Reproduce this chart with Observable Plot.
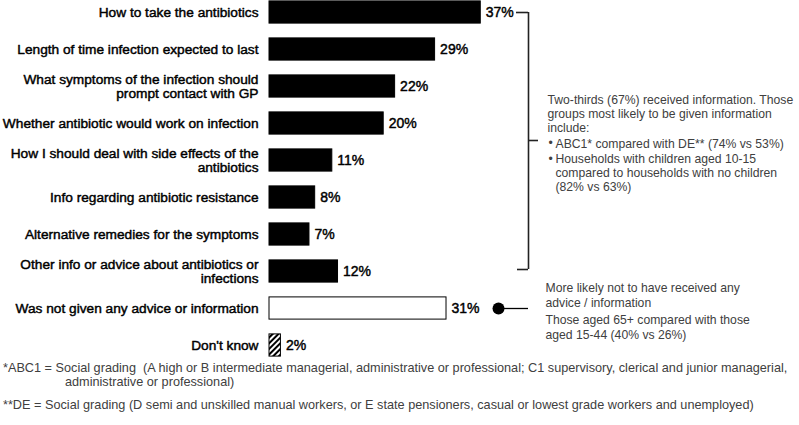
<!DOCTYPE html>
<html><head><meta charset="utf-8">
<script src="https://cdn.jsdelivr.net/npm/d3@7"></script>
<script src="https://cdn.jsdelivr.net/npm/@observablehq/plot@0.6"></script>
<style>
body{margin:0;background:#fff;font-family:"Liberation Sans",Arial,sans-serif;}
#chart svg{display:block;}
#fn{position:relative;width:799px;height:65px;color:#404040;font-size:12.7px;line-height:14px;font-family:"Liberation Sans",Arial,sans-serif;}
#fn div{position:absolute;white-space:pre;}
</style></head><body>
<div id="chart"></div>
<div id="fn"></div>
<script>
// ---- data ----
const categories = [
  "How to take the antibiotics",
  "Length of time infection expected to last",
  "What symptoms of the infection should prompt contact with GP",
  "Whether antibiotic would work on infection",
  "How I should deal with side effects of the antibiotics",
  "Info regarding antibiotic resistance",
  "Alternative remedies for the symptoms",
  "Other info or advice about antibiotics or infections",
  "Was not given any advice or information",
  "Don't know"
];
const categoryLabels = [
  "How to take the antibiotics",
  "Length of time infection expected to last",
  "What symptoms of the infection should\nprompt contact with GP",
  "Whether antibiotic would work on infection",
  "How I should deal with side effects of the\nantibiotics",
  "Info regarding antibiotic resistance",
  "Alternative remedies for the symptoms",
  "Other info or advice about antibiotics or\ninfections",
  "Was not given any advice or information",
  "Don't know"
];
const values = [37, 29, 22, 20, 11, 8, 7, 12, 31, 2];

const receivedNote = ["Two-thirds (67%) received information. Those", "groups most likely to be given information", "include:"];
const receivedBullets = [
  ["ABC1* compared with DE** (74% vs 53%)"],
  ["Households with children aged 10-15", "compared to households with no children", "(82% vs 63%)"]
];
const notGivenNote = [
  ["More likely not to have received any", "advice / information"],
  ["Those aged 65+ compared with those", "aged 15-44 (40% vs 26%)"]
];
const footnotes = [
  "*ABC1 = Social grading  (A high or B intermediate managerial, administrative or professional; C1 supervisory, clerical and junior managerial,",
  "administrative or professional)",
  "**DE = Social grading (D semi and unskilled manual workers, or E state pensioners, casual or lowest grade workers and unemployed)"
];

// ---- build ----
const rows = categories.map((c, i) => ({category: c, label: categoryLabels[i], value: values[i], i}));
const H = 360;
const rowPx = 37, firstPx = 12;
const pxToRow = p => (p - firstPx) / rowPx;
const x0 = 269, pxPerPct = 5.71;
const pxToX = p => (p - x0) / pxPerPct;

const half = 0.3;
const fillFor = d => d.i < 8 ? "#000" : d.i === 8 ? "#fff" : "url(#hatch)";

const FONT = "Liberation Sans, Arial, sans-serif";
const labelFont = {fontSize: 13.7, fill: "#000", stroke: "#000", strokeWidth: 0.45, fontFamily: FONT};
const noteFont = {fontSize: 12.2, fill: "#404040", fontFamily: FONT};

const bracketX = pxToX(528);
const bracketBottom = pxToRow(269);
const bracketMid = pxToRow(140);
const dotX = rows[8].value + (498 - 446) / pxPerPct;

const plot = Plot.plot({
  width: 799,
  height: H,
  margin: 0,
  style: {fontFamily: FONT, background: "#fff"},
  x: {domain: [0, 100], range: [x0, x0 + 100 * pxPerPct], axis: null},
  y: {domain: [pxToRow(0), pxToRow(H)], range: [0, H], axis: null},
  marks: [
    Plot.rectX(rows, {x1: 0, x2: "value", y1: d => d.i - half, y2: d => d.i + half,
      fill: fillFor, stroke: "#000", strokeWidth: 1}),
    Plot.text(rows, {x: 0, y: "i", text: "label", textAnchor: "end", dx: -11, lineHeight: 1.0, ...labelFont}),
    Plot.text(rows, {x: "value", y: "i", text: d => d.value + "%", textAnchor: "start", dx: 5, ...labelFont, fontSize: 14}),
    // bracket
    Plot.ruleX([bracketX], {y1: 0, y2: bracketBottom, stroke: "#222", strokeWidth: 1.6}),
    Plot.ruleY([0], {x1: pxToX(516), x2: bracketX, stroke: "#222", strokeWidth: 1.6}),
    Plot.ruleY([bracketBottom], {x1: pxToX(517), x2: bracketX, stroke: "#222", strokeWidth: 1.6}),
    Plot.ruleY([bracketMid], {x1: bracketX, x2: pxToX(538), stroke: "#222", strokeWidth: 1.6}),
    // received note
    Plot.text([receivedNote.join("\n")], {x: pxToX(547), y: pxToRow(113.3), text: d => d, textAnchor: "start", lineHeight: 14 / 12.2, ...noteFont}),
    Plot.text(receivedBullets, {x: pxToX(548), y: (d, k) => k === 0 ? pxToRow(142.7) : pxToRow(158.3), text: () => "•", textAnchor: "start", ...noteFont}),
    Plot.text(receivedBullets, {x: pxToX(555), y: (d, k) => k === 0 ? pxToRow(142.7) : pxToRow(172), text: d => d.join("\n"), textAnchor: "start", lineHeight: 13.8 / 12.2, ...noteFont}),
    // not given note
    Plot.ruleY([8], {x1: dotX, x2: pxToX(528), stroke: "#000", strokeWidth: 1.3}),
    Plot.dot([8], {x: dotX, y: d => d, r: 6, fill: "#000"}),
    Plot.text(notGivenNote, {x: pxToX(545), y: (d, k) => k === 0 ? pxToRow(294.2) : pxToRow(326.3), text: d => d.join("\n"), textAnchor: "start", lineHeight: 14.6 / 12.2, ...noteFont})
  ]
});

d3.select(plot).insert("defs", ":first-child").html(
  '<pattern id="hatch" patternUnits="userSpaceOnUse" width="4" height="4" patternTransform="rotate(45)">' +
  '<rect width="4" height="4" fill="#fff"/><line x1="1" y1="0" x2="1" y2="4" stroke="#000" stroke-width="2"/></pattern>');

document.getElementById("chart").appendChild(plot);

const fnPos = [[3, 1], [65, 15], [3, 38]];
const fn = d3.select("#fn");
footnotes.forEach((t, k) => {
  fn.append("div").style("left", fnPos[k][0] + "px").style("top", fnPos[k][1] + "px").text(t);
});
</script>
</body></html>
